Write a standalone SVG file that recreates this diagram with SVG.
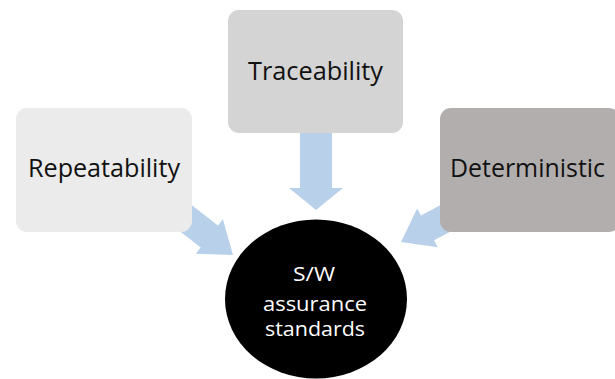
<svg xmlns="http://www.w3.org/2000/svg" width="615" height="379" viewBox="0 0 615 379">
<style>
.box{stroke:none}
.lbl{font-family:"Open Sans","Noto Sans","DejaVu Sans",sans-serif;font-size:25px;fill:#111;text-anchor:middle}
.clbl{font-family:"Open Sans","Noto Sans","DejaVu Sans",sans-serif;font-size:20px;fill:#fff;text-anchor:middle}
.arrow{fill:#b8d0ea}
</style>
<rect width="615" height="379" fill="#fff"/>
<g id="connectors">
<polygon class="arrow" points="-85,-14 -30,-14 -30,-22 0,0 -30,22 -30,14 -85,14" transform="translate(233,255) rotate(38)"/>
<polygon class="arrow" points="-85,-16 -22,-16 -22,-27 0,0 -22,27 -22,16 -85,16" transform="translate(316,210) rotate(90)"/>
<polygon class="arrow" points="-85,-14 -30,-14 -30,-22 0,0 -30,22 -30,14 -85,14" transform="translate(401,242) rotate(152)"/>
</g>
<g id="repeatability">
<rect class="box" x="16" y="108" width="176" height="124" rx="11" fill="#ebebeb"/>
<text class="lbl" x="104" y="177" textLength="152" lengthAdjust="spacingAndGlyphs">Repeatability</text>
</g>
<g id="traceability">
<rect class="box" x="228" y="10" width="175" height="123" rx="11" fill="#d4d4d4"/>
<text class="lbl" x="315.5" y="80" textLength="135" lengthAdjust="spacingAndGlyphs">Traceability</text>
</g>
<g id="deterministic">
<rect class="box" x="440" y="108" width="180" height="124" rx="11" fill="#b3aeae"/>
<text class="lbl" x="527.5" y="177" textLength="155" lengthAdjust="spacingAndGlyphs">Deterministic</text>
</g>
<g id="sw-assurance">
<ellipse cx="316" cy="299" rx="91" ry="79.5" fill="#000"/>
<text class="clbl" x="314" y="281" textLength="42" lengthAdjust="spacingAndGlyphs">S/W</text>
<text class="clbl" x="315" y="311" textLength="104" lengthAdjust="spacingAndGlyphs">assurance</text>
<text class="clbl" x="315" y="336" textLength="100" lengthAdjust="spacingAndGlyphs">standards</text>
</g>
</svg>
